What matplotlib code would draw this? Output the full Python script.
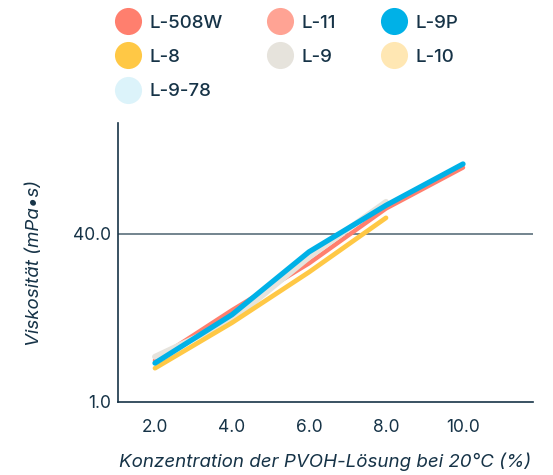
import matplotlib
matplotlib.use("Agg")
import matplotlib.pyplot as plt
from matplotlib.lines import Line2D

plt.rcParams['font.family'] = ['Inter', 'DejaVu Sans']

# Konzentration (%) und Viskosität (mPa·s)
konz = [2.0, 4.0, 6.0, 8.0, 10.0]
l508w = [2.5, 7.5, 21.0, 70.0, 172.0]
l9 = [2.7, 6.0, 24.0, 81.0]
l8 = [2.1, 5.7, 17.3, 57.0]
l9p = [2.35, 6.8, 27.0, 75.0, 186.0]

namen = ['L-508W', 'L-11', 'L-9P', 'L-8', 'L-9', 'L-10', 'L-9-78']
farben = {'L-508W': '#ff7f6e', 'L-11': '#ffa394', 'L-9P': '#00b1e7',
          'L-8': '#ffc845', 'L-9': '#e6e3dc', 'L-10': '#ffe7b3',
          'L-9-78': '#dcf3fa'}

dunkel = '#163347'

fig = plt.figure(figsize=(5.53, 4.75), dpi=100)
ax = fig.add_axes([0.2134, 0.1537, 0.7506, 0.5873])

ax.axhline(40, color='#5b6f7b', lw=1.2, zorder=1)
ax.plot(konz, l508w, color=farben['L-508W'], lw=3.2, solid_capstyle='round', zorder=2)
ax.plot(konz[:4], l9, color=farben['L-9'], lw=4.2, solid_capstyle='round', zorder=3)
ax.plot(konz[:4], l8, color=farben['L-8'], lw=3.4, solid_capstyle='round', zorder=4)
ax.plot(konz, l9p, color=farben['L-9P'], lw=3.8, solid_capstyle='round', zorder=5)

ax.set_yscale('log')
ax.set_ylim(1.0, 457)
ax.set_xlim(1.04, 11.82)
ax.set_yticks([1.0, 40.0])
ax.set_yticklabels(['1.0', '40.0'])
ax.minorticks_off()
ax.set_xticks(konz)
ax.set_xticklabels(['2.0', '4.0', '6.0', '8.0', '10.0'])
ax.tick_params(length=0, labelsize=12.5, colors=dunkel, pad=12)
ax.tick_params(axis='y', pad=5)

for s in ['top', 'right']:
    ax.spines[s].set_visible(False)
for s in ['left', 'bottom']:
    ax.spines[s].set_color(dunkel)
    ax.spines[s].set_linewidth(1.2)

ax.set_xlabel('Konzentration der PVOH-Lösung bei 20°C (%)', fontsize=13.5,
              style='italic', color=dunkel, labelpad=12)
ax.set_ylabel('Viskosität (mPa•s)', fontsize=13.5, style='italic',
              color=dunkel, labelpad=22)

# Legende spaltenweise: Reihenfolge so, dass die Zeilen stimmen
reihenfolge = ['L-508W', 'L-8', 'L-9-78', 'L-11', 'L-9', 'L-9P', 'L-10']
handles = [Line2D([], [], ls='none', marker='o', markersize=19.5,
                  markerfacecolor=farben[n], markeredgecolor='none')
           for n in reihenfolge]
leg = fig.legend(handles, reihenfolge, ncol=3, loc='upper left',
                 bbox_to_anchor=(0.183, 1.005), frameon=False,
                 fontsize=13.5, handletextpad=0.6, columnspacing=2.5,
                 labelspacing=0.92, handlelength=1.1)
for t in leg.get_texts():
    t.set_color(dunkel)
    t.set_fontweight('medium')

fig.savefig('out.png', dpi=100)
